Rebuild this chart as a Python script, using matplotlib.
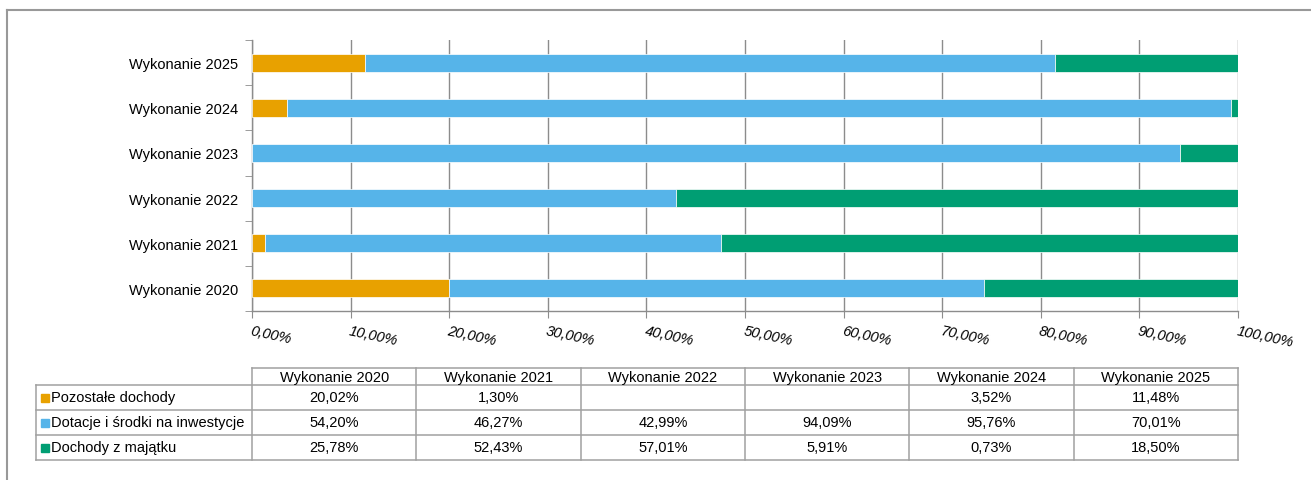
import matplotlib.pyplot as plt
from matplotlib.lines import Line2D
from matplotlib.patches import Rectangle

plt.rcParams['font.family'] = ['Liberation Sans', 'DejaVu Sans']

# Data
years = ["Wykonanie 2020", "Wykonanie 2021", "Wykonanie 2022",
         "Wykonanie 2023", "Wykonanie 2024", "Wykonanie 2025"]
series_names = ["Pozostałe dochody", "Dotacje i środki na inwestycje", "Dochody z majątku"]
pozostale = [20.02, 1.30, 0.0, 0.0, 3.52, 11.48]
dotacje = [54.20, 46.27, 42.99, 94.09, 95.76, 70.01]
majatek = [25.78, 52.43, 57.01, 5.91, 0.73, 18.50]
table_text = [
    ["20,02%", "1,30%", "", "", "3,52%", "11,48%"],
    ["54,20%", "46,27%", "42,99%", "94,09%", "95,76%", "70,01%"],
    ["25,78%", "52,43%", "57,01%", "5,91%", "0,73%", "18,50%"],
]
colors = ["#E8A100", "#56B4E9", "#009E73"]

W, H = 1311, 481
fig = plt.figure(figsize=(W / 100, H / 100), dpi=100)

# Bar chart
ax = fig.add_axes([252 / W, 1 - 312 / H, (1238 - 252) / W, (312 - 41) / H])
grid_col = "#8c8c8c"
left = [0] * len(years)
for vals, col in zip([pozostale, dotacje, majatek], colors):
    ax.barh(range(len(years)), vals, left=left, height=0.4, color=col,
            edgecolor="white", linewidth=0.5, zorder=3)
    left = [a + b for a, b in zip(left, vals)]

ax.set_xlim(0, 100)
ax.set_ylim(-0.5, len(years) - 0.5)
ax.set_xticks(range(0, 101, 10))
ax.set_xticklabels([f"{v},00%" for v in range(0, 101, 10)], rotation=-12,
                   ha="left", va="top", rotation_mode="anchor",
                   fontsize=10.5, style="italic")
ax.set_yticks(range(len(years)))
ax.set_yticklabels(years, fontsize=10.5)
ax.set_yticks([i - 0.5 for i in range(len(years) + 1)], minor=True)
ax.tick_params(axis="y", which="major", length=0, pad=10)
ax.tick_params(axis="y", which="minor", length=5, color=grid_col, direction="out")
ax.tick_params(axis="x", length=5, color=grid_col, pad=4)
ax.grid(axis="x", color=grid_col, linewidth=1, zorder=0)
for s in ["top", "right"]:
    ax.spines[s].set_visible(False)
for s in ["left", "bottom"]:
    ax.spines[s].set_color(grid_col)
    ax.spines[s].set_linewidth(1)

# Data table and frame drawn in pixel coordinates
tx = fig.add_axes([0, 0, 1, 1])
tx.set_xlim(0, W)
tx.set_ylim(H, 0)
tx.axis("off")
tx.patch.set_alpha(0)

line_col = "#a0a0a0"
x0, x_lab, x1 = 252, 36, 1238
cw = (x1 - x0) / len(years)
y_head, y_body = 369, 386
rh = 25

def hline(xa, xb, y):
    tx.add_line(Line2D([xa, xb], [y, y], color=line_col, lw=1.1))

def vline(x, ya, yb):
    tx.add_line(Line2D([x, x], [ya, yb], color=line_col, lw=1.1))

y_end = y_body + rh * len(series_names)
hline(x0, x1, y_head)
for r in range(len(series_names) + 1):
    hline(x_lab, x1, y_body + r * rh)
vline(x_lab, y_body, y_end)
for c in range(len(years) + 1):
    vline(x0 + c * cw, y_head, y_end)

for c, yr in enumerate(years):
    tx.text(x0 + (c + 0.5) * cw, (y_head + y_body) / 2 + 1, yr,
            ha="center", va="center", fontsize=10.5)
for r, name in enumerate(series_names):
    yc = y_body + (r + 0.5) * rh
    tx.add_patch(Rectangle((41, yc - 4), 8, 8, color=colors[r]))
    tx.text(51, yc, name, ha="left", va="center", fontsize=10.5)
    for c in range(len(years)):
        tx.text(x0 + (c + 0.5) * cw, yc, table_text[r][c],
                ha="center", va="center", fontsize=10.5)

# Outer frame (top and left edges)
tx.add_line(Line2D([7, W], [11, 11], color="#999999", lw=1.5))
tx.add_line(Line2D([7, 7], [11, H], color="#999999", lw=1.5))

fig.savefig("out.png", dpi=100)
